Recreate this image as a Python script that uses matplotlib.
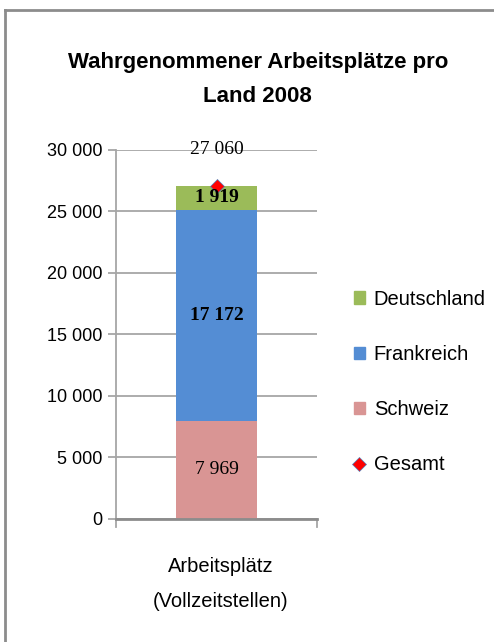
import matplotlib
matplotlib.use("Agg")
import matplotlib.pyplot as plt
from matplotlib.lines import Line2D
from matplotlib.patches import Patch

categories = ["Arbeitsplätz\n(Vollzeitstellen)"]
schweiz = [7969]
frankreich = [17172]
deutschland = [1919]
gesamt = [27060]
yticks = [0, 5000, 10000, 15000, 20000, 25000, 30000]
ytick_labels = ["0", "5 000", "10 000", "15 000", "20 000", "25 000", "30 000"]

c_ch = "#D99594"
c_fr = "#548DD4"
c_de = "#9BBB59"

sans = ["Liberation Sans", "DejaVu Sans"]
serif = ["Liberation Serif", "DejaVu Serif"]

fig = plt.figure(figsize=(4.94, 6.42), dpi=100)
# outer frame (left and top only visible)
fig.add_artist(Line2D([0.0111, 0.0111], [0, 0.985], color="#8c8c8c", lw=2.0, transform=fig.transFigure))
fig.add_artist(Line2D([0.0111, 1.0], [0.985, 0.985], color="#8c8c8c", lw=2.0, transform=fig.transFigure))

ax = fig.add_axes([0.235, 0.1916, 0.407, 0.575])
x = [0.5]
w = 0.40
ax.bar(x, schweiz, width=w, color=c_ch, zorder=2)
ax.bar(x, frankreich, width=w, bottom=schweiz, color=c_fr, zorder=2)
b2 = [schweiz[0] + frankreich[0]]
ax.bar(x, deutschland, width=w, bottom=b2, color=c_de, zorder=2)
ax.plot(x, gesamt, marker="D", color="#FF0000", markersize=7, markeredgecolor="#4F81BD",
        markeredgewidth=0.5, linestyle="none", zorder=3)

ax.set_xlim(0, 1)
ax.set_ylim(0, 30000)
ax.set_yticks(yticks)
ax.set_yticklabels(ytick_labels, fontfamily=sans, fontsize=13)
ax.set_xticks([0.5])
ax.set_xticklabels([])
ax.yaxis.grid(True, color="#a6a6a6", lw=1.3, zorder=0)
ax.set_axisbelow(True)
for s in ["top", "right"]:
    ax.spines[s].set_visible(False)
ax.spines["left"].set_color("#a6a6a6")
ax.spines["left"].set_linewidth(1.3)
ax.spines["bottom"].set_color("#8c8c8c")
ax.spines["bottom"].set_linewidth(2)
ax.tick_params(axis="y", length=6, color="#a6a6a6", width=1.3, pad=4)
ax.tick_params(axis="x", length=0)
for xe in [0, 1]:
    ax.plot([xe, xe], [0, -650], color="#a6a6a6", lw=1.3, clip_on=False)

# value labels
ax.text(0.5, schweiz[0] / 2, "7 969", ha="center", va="center", fontfamily=serif, fontsize=14)
ax.text(0.5, schweiz[0] + frankreich[0] / 2, "17 172", ha="center", va="center",
        fontfamily=serif, fontsize=14, fontweight="bold")
ax.text(0.5, b2[0] + deutschland[0] / 2, "1 919", ha="center", va="center",
        fontfamily=serif, fontsize=14, fontweight="bold")
ax.text(0.5, 30000, "27 060", ha="center", va="center", fontfamily=serif, fontsize=14)

# category label
ax.text(0.52, -3100, categories[0], ha="center", va="top", fontfamily=sans, fontsize=14.5,
        linespacing=2.05, transform=ax.transData)

fig.text(0.522, 0.876, "Wahrgenommener Arbeitsplätze pro\nLand 2008", ha="center", va="center",
         fontfamily=sans, fontsize=16, fontweight="bold", linespacing=1.85)

handles = [Patch(color=c_de), Patch(color=c_fr), Patch(color=c_ch),
           Line2D([], [], marker="D", color="#FF0000", markeredgecolor="#4F81BD",
                  markeredgewidth=0.5, linestyle="none", markersize=7)]
labels = ["Deutschland", "Frankreich", "Schweiz", "Gesamt"]
fig.legend(handles, labels, loc="center left", bbox_to_anchor=(0.716, 0.405), frameon=False,
           prop={"family": sans, "size": 14.5}, handlelength=0.55, handleheight=0.55,
           handletextpad=0.45, labelspacing=1.8, borderpad=0, borderaxespad=0)

fig.savefig("out.png", dpi=100)
